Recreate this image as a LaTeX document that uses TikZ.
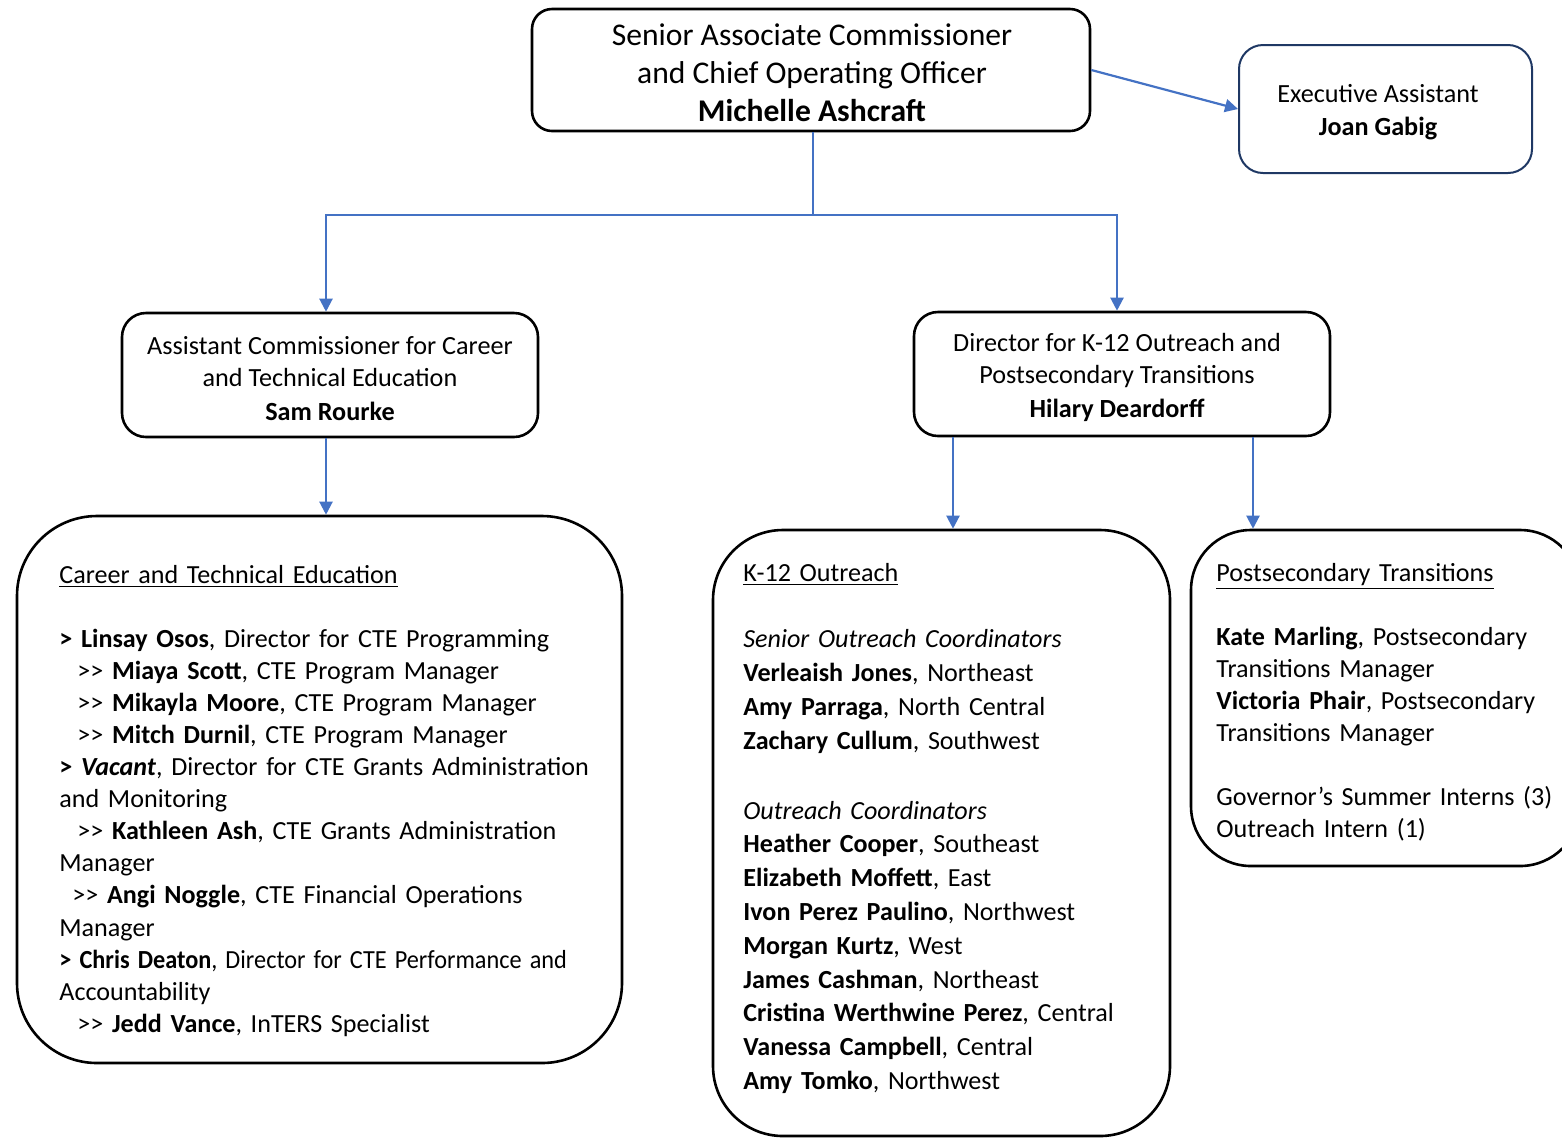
\documentclass[tikz,border=0pt]{standalone}
\usepackage{fontspec}
\usepackage{graphicx}
\setmainfont{Carlito}
\usetikzlibrary{arrows.meta}
\definecolor{lnblue}{HTML}{4472C4}
\definecolor{navyb}{HTML}{1F3864}
\newcommand{\ddgt}{>\kern0pt>}
\begin{document}
\begin{tikzpicture}[x=0.5pt,y=-0.5pt,
  box/.style={draw=black,line width=1.3pt,rounded corners=#1,inner sep=0pt},
  conn/.style={draw=lnblue,line width=1.1pt},
  arr/.style={conn,-{Triangle[length=6.5pt,width=6.5pt]}},
  body/.style={anchor=base west,align=left,inner sep=0pt,text width=#1},
  midtxt/.style={align=center,inner sep=0pt,font=\fontsize{13.1}{16}\selectfont}
]
\clip (0,0) rectangle (1562,1137);

% top level
\node[box=10pt,minimum width=279pt,minimum height=61pt] (top) at (811,70) {};
\node[align=center,inner sep=0pt,font=\fontsize{15.8}{19}\selectfont] (topt) at (812,73)
  {Senior Associate Commissioner\\and Chief Operating Officer\\\textbf{Michelle Ashcraft}};
\node[box=12pt,draw=navyb,line width=1pt,minimum width=146.5pt,minimum height=64pt] (exec) at (1385.5,109) {};
\node[align=center,inner sep=0pt,font=\fontsize{13.1}{16.5}\selectfont] (exect) at (1378,112)
  {Executive Assistant\\\textbf{Joan Gabig}};

% middle level
\node[box=12pt,minimum width=208pt,minimum height=62pt] (lm) at (330,375) {};
\node[midtxt] (lmt) at (330,379)
  {Assistant Commissioner for Career\\and Technical Education\\[1pt]\textbf{Sam Rourke}};
\node[box=12pt,minimum width=208pt,minimum height=62pt] (rm) at (1122,374) {};
\node[midtxt] (rmt) at (1117,377)
  {Director for K-12 Outreach and\\Postsecondary Transitions\\[1pt]\textbf{Hilary Deardorff}};

% bottom boxes
\node[box=40pt,minimum width=302.5pt,minimum height=273.5pt] (cte) at (319.5,789.5) {};
\node[box=35pt,minimum width=228.5pt,minimum height=303pt] (k12) at (941.5,833) {};
\node[box=30pt,minimum width=194.5pt,minimum height=168pt] (post) at (1385.5,698) {};

% bottom texts
\node[body=290pt,font=\fontsize{13.05}{16.05}\selectfont] (ctet) at (59,583)
 {\underline{Career and Technical Education}\\[16pt]
  \textbf{> Linsay Osos}, Director for CTE Programming\\
  \hspace*{9pt}\ddgt{} \textbf{Miaya Scott}, CTE Program Manager\\
  \hspace*{9pt}\ddgt{} \textbf{Mikayla Moore}, CTE Program Manager\\
  \hspace*{9pt}\ddgt{} \textbf{Mitch Durnil}, CTE Program Manager\\
  \textbf{> \textit{Vacant}}, Director for CTE Grants Administration\\
  and Monitoring\\
  \hspace*{9pt}\ddgt{} \textbf{Kathleen Ash}, CTE Grants Administration\\
  Manager\\
  \hspace*{6.5pt}\ddgt{} \textbf{Angi Noggle}, CTE Financial Operations\\
  Manager\\
  \scalebox{0.93}[1]{\textbf{> Chris Deaton}, Director for CTE Performance and}\\
  Accountability\\
  \hspace*{9pt}\ddgt{} \textbf{Jedd Vance}, InTERS Specialist};

\node[body=210pt,font=\fontsize{13.05}{16.9}\selectfont] (k12t) at (743,581)
 {\underline{K-12 Outreach}\\[16.5pt]
  \textit{Senior Outreach Coordinators}\\
  \textbf{Verleaish Jones}, Northeast\\
  \textbf{Amy Parraga}, North Central\\
  \textbf{Zachary Cullum}, Southwest\\[18pt]
  \textit{Outreach Coordinators}\\
  \textbf{Heather Cooper}, Southeast\\
  \textbf{Elizabeth Moffett}, East\\
  \textbf{Ivon Perez Paulino}, Northwest\\
  \textbf{Morgan Kurtz}, West\\
  \textbf{James Cashman}, Northeast\\
  \textbf{Cristina Werthwine Perez}, Central\\
  \textbf{Vanessa Campbell}, Central\\
  \textbf{Amy Tomko}, Northwest};

\node[body=190pt,font=\fontsize{13.05}{16}\selectfont] (postt) at (1216,581)
 {\underline{Postsecondary Transitions}\\[16pt]
  \textbf{Kate Marling}, Postsecondary\\
  Transitions Manager\\
  \textbf{Victoria Phair}, Postsecondary\\
  Transitions Manager\\[16pt]
  Governor’s Summer Interns (3)\\
  Outreach Intern (1)};

% connectors
\coordinate (hy) at (0,215);
\coordinate (ts) at ([xshift=1pt]top.south);
\coordinate (la) at ([xshift=-2pt]lm.north);
\coordinate (lb) at ([xshift=-2pt]lm.south);
\coordinate (ra) at ([xshift=-2.5pt]rm.north);
\draw[conn] (ts) -- (ts |- hy) coordinate (jn);
\draw[arr] (jn) -| (la);
\draw[arr] (jn) -| (ra);
\draw[arr] (top.east) -- (exec.west);
\draw[arr] (lb) -- (lb |- cte.north);
\coordinate (ka) at ([xshift=-84.5pt]rm.south);
\coordinate (pa) at ([xshift=65.5pt]rm.south);
\draw[arr] (ka) -- (ka |- k12.north);
\draw[arr] (pa) -- (pa |- post.north);
\end{tikzpicture}
\end{document}
